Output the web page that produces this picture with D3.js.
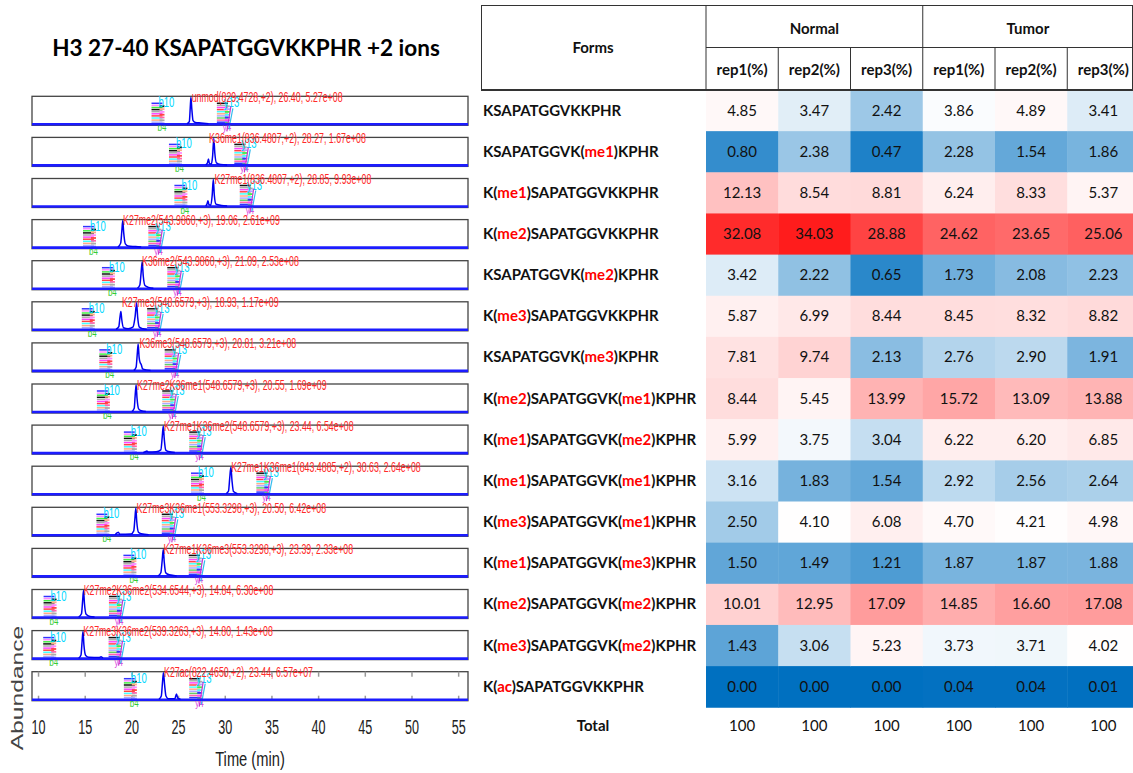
<!DOCTYPE html>
<html>
<head>
<meta charset="utf-8">
<script src="https://cdn.jsdelivr.net/npm/d3@7"></script>
<style>
  body { margin: 0; background: #fff; }
  svg { display: block; }
</style>
</head>
<body>
<div id="chart"></div>
<script>
// ---------- table data ----------
const forms = [
  "KSAPATGGVKKPHR", "KSAPATGGVK(me1)KPHR", "K(me1)SAPATGGVKKPHR", "K(me2)SAPATGGVKKPHR",
  "KSAPATGGVK(me2)KPHR", "K(me3)SAPATGGVKKPHR", "KSAPATGGVK(me3)KPHR", "K(me2)SAPATGGVK(me1)KPHR",
  "K(me1)SAPATGGVK(me2)KPHR", "K(me1)SAPATGGVK(me1)KPHR", "K(me3)SAPATGGVK(me1)KPHR",
  "K(me1)SAPATGGVK(me3)KPHR", "K(me2)SAPATGGVK(me2)KPHR", "K(me3)SAPATGGVK(me2)KPHR", "K(ac)SAPATGGVKKPHR"
];
const normalRep1 = [4.85, 0.80, 12.13, 32.08, 3.42, 5.87, 7.81, 8.44, 5.99, 3.16, 2.50, 1.50, 10.01, 1.43, 0.00];
const normalRep2 = [3.47, 2.38, 8.54, 34.03, 2.22, 6.99, 9.74, 5.45, 3.75, 1.83, 4.10, 1.49, 12.95, 3.06, 0.00];
const normalRep3 = [2.42, 0.47, 8.81, 28.88, 0.65, 8.44, 2.13, 13.99, 3.04, 1.54, 6.08, 1.21, 17.09, 5.23, 0.00];
const tumorRep1  = [3.86, 2.28, 6.24, 24.62, 1.73, 8.45, 2.76, 15.72, 6.22, 2.92, 4.70, 1.87, 14.85, 3.73, 0.04];
const tumorRep2  = [4.89, 1.54, 8.33, 23.65, 2.08, 8.32, 2.90, 13.09, 6.20, 2.56, 4.21, 1.87, 16.60, 3.71, 0.04];
const tumorRep3  = [3.41, 1.86, 5.37, 25.06, 2.23, 8.82, 1.91, 13.88, 6.85, 2.64, 4.98, 1.88, 17.08, 4.02, 0.01];
const groups = ["Normal", "Tumor"];
const repLabels = ["rep1(%)", "rep2(%)", "rep3(%)", "rep1(%)", "rep2(%)", "rep3(%)"];
const totals = [100, 100, 100, 100, 100, 100];

// ---------- chromatogram data ----------
const peptides = ["unmod", "K36me1", "K27me1", "K27me2", "K36me2", "K27me3", "K36me3", "K27me2K36me1",
  "K27me1K36me2", "K27me1K36me1", "K27me3K36me1", "K27me1K36me3", "K27me2K36me2", "K27me3K36me2", "K27ac"];
const mzs = ["829.4728", "836.4807", "836.4807", "543.9860", "543.9860", "548.6579", "548.6579", "548.6579",
  "548.6579", "843.4885", "553.3298", "553.3298", "534.6544", "539.3263", "822.4650"];
const charges = ["+2", "+2", "+2", "+3", "+3", "+3", "+3", "+3", "+3", "+2", "+3", "+3", "+3", "+3", "+2"];
const rts = ["26.40", "28.27", "28.85", "19.06", "21.09", "18.93", "20.81", "20.55", "23.44", "30.63",
  "20.50", "23.39", "14.84", "14.80", "23.44"];
const areas = ["5.27e+08", "1.67e+08", "9.93e+08", "2.61e+09", "2.53e+08", "1.17e+09", "3.21e+08", "1.69e+09",
  "6.54e+08", "2.64e+08", "6.42e+08", "2.33e+08", "6.30e+08", "1.43e+08", "6.57e+07"];
// [time, relative abundance]
const traces = [
  [[25.9,0],[26.15,0.08],[26.25,0.6],[26.32,1],[26.42,0.55],[26.55,0.12],[26.8,0.05],[27.4,0.03],[28.2,0]],
  [[27.9,0],[28.1,0.08],[28.2,0.22],[28.3,0.06],[28.5,0.03],[28.65,0.35],[28.77,1],[28.88,0.45],[29.05,0.08],[29.5,0.02],[30.2,0]],
  [[27.9,0],[28.05,0.08],[28.15,0.2],[28.25,0.05],[28.45,0.03],[28.6,0.4],[28.72,1],[28.83,0.4],[29.0,0.07],[29.6,0.02],[30.2,0]],
  [[18.5,0],[18.8,0.15],[18.92,0.6],[19.02,1],[19.12,0.55],[19.3,0.12],[19.6,0.04],[20.4,0.02],[21.0,0]],
  [[20.6,0],[20.85,0.12],[20.98,0.55],[21.1,1],[21.22,0.45],[21.4,0.1],[21.8,0.03],[22.3,0]],
  [[18.3,0],[18.6,0.1],[18.72,0.45],[18.82,0.67],[18.92,0.35],[19.1,0.06],[19.6,0.02],[20.1,0.08],[20.35,0.5],[20.5,1],[20.62,0.45],[20.8,0.08],[21.2,0.02],[21.6,0]],
  [[20.2,0],[20.45,0.12],[20.57,0.6],[20.67,1],[20.77,0.5],[20.88,0.3],[21.0,0.22],[21.15,0.06],[21.5,0.02],[22,0]],
  [[20.0,0],[20.25,0.12],[20.35,0.6],[20.45,1],[20.55,0.5],[20.72,0.1],[21.0,0.03],[21.5,0]],
  [[21.2,0],[21.5,0.04],[21.6,0.06],[21.75,0.02],[22.6,0.03],[23.1,0.1],[23.25,0.6],[23.36,1],[23.47,0.5],[23.62,0.1],[23.9,0.04],[24.6,0]],
  [[30.1,0],[30.35,0.1],[30.48,0.6],[30.6,1],[30.72,0.5],[30.88,0.08],[31.3,0]],
  [[18.2,0],[18.45,0.08],[18.55,0.1],[18.7,0.02],[19.9,0.03],[20.2,0.15],[20.32,0.6],[20.42,1],[20.52,0.5],[20.7,0.1],[21.0,0.04],[21.8,0]],
  [[22.8,0],[23.1,0.12],[23.25,0.6],[23.36,1],[23.47,0.5],[23.62,0.12],[24.0,0.04],[24.8,0]],
  [[14.3,0],[14.6,0.12],[14.72,0.6],[14.82,1],[14.92,0.5],[15.1,0.1],[15.5,0.02],[16.0,0]],
  [[14.3,0],[14.55,0.12],[14.66,0.6],[14.76,1],[14.86,0.5],[15.05,0.1],[15.4,0.03],[16.5,0.02],[16.7,0.05],[16.9,0]],
  [[22.9,0],[23.15,0.12],[23.27,0.6],[23.38,1],[23.5,0.55],[23.65,0.12],[23.9,0.02],[24.6,0.02],[24.78,0.2],[24.9,0.05],[25.2,0]]
];
const timeTicks = [10, 15, 20, 25, 30, 35, 40, 45, 50, 55];
const ionColors = ["#3333ff", "#ff88ff", "#44ee44", "#111111", "#aaaaaa", "#ff44ff", "#ff4444", "#44ffff", "#ffaa88", "#aaaaff", "#66cc66", "#ff66aa"];

const W = 1133, H = 773;
const svg = d3.select("#chart").append("svg").attr("width", W).attr("height", H);

// ================= left: chromatograms =================
const narrow = "'Liberation Sans', Arial, sans-serif";
const x = d3.scaleLinear().domain([9.3, 56]).range([32, 468]);
const panelTop = d3.scaleLinear().domain([0, 1]).range([96.3, 137.4]);
const panelH = 29;

function squeezed(g, px, py, txt, size, sx, fill, anchor) {
  return g.append("text")
    .attr("transform", `translate(${px},${py}) scale(${sx},1)`)
    .attr("text-anchor", anchor || "start")
    .attr("font-family", narrow)
    .attr("font-size", size)
    .attr("fill", fill)
    .text(txt);
}

svg.append("text")
  .attr("x", 246).attr("y", 56)
  .attr("text-anchor", "middle")
  .attr("font-family", "Lato, 'Open Sans', sans-serif")
  .attr("font-weight", "bold")
  .attr("font-size", 22.5)
  .text("H3 27-40 KSAPATGGVKKPHR +2 ions");

const left = svg.append("g");
const line = d3.line().x(d => x(d[0])).curve(d3.curveMonotoneX);

peptides.forEach((p, i) => {
  const top = panelTop(i), bot = top + panelH;
  const y = d3.scaleLinear().domain([0, 1]).range([bot - 1.5, top + 1]);
  const g = left.append("g");
  g.append("rect").attr("x", x.range()[0]).attr("y", top)
    .attr("width", x.range()[1] - x.range()[0]).attr("height", panelH)
    .attr("fill", "#fff").attr("stroke", "#444").attr("stroke-width", 1.3);

  if (i === peptides.length - 1) {
    timeTicks.forEach(t => {
      g.append("line").attr("x1", x(t)).attr("x2", x(t)).attr("y1", top).attr("y2", top + 5)
        .attr("stroke", "#999").attr("stroke-width", 1.5);
      g.append("line").attr("x1", x(t)).attr("x2", x(t)).attr("y1", bot - 5).attr("y2", bot)
        .attr("stroke", "#999").attr("stroke-width", 1.5);
    });
  }

  // fragment ion markers on both sides of the labelled peak
  const lrt = +rts[i];
  [[lrt - 4.3, "b10", "b4"], [lrt + 2.7, "y13", "y4"]].forEach(([t0, topLab, botLab], side) => {
    const x0 = x(t0);
    d3.range(11).forEach(k => {
      g.append("line").attr("x1", x0).attr("x2", x0 + 11)
        .attr("y1", top + 7 + k * 2.1).attr("y2", top + 7 + k * 2.1)
        .attr("stroke", ionColors[(k + side * 3) % ionColors.length]).attr("stroke-width", 1.5);
    });
    // dense column of ion numbers drawn as short strokes
    d3.range(7).forEach(k => {
      g.append("line").attr("x1", x0 + 8).attr("x2", x0 + 13)
        .attr("y1", top + 10 + k * 2.8).attr("y2", top + 10 + k * 2.8)
        .attr("stroke", ionColors[(k * 5 + 3 + side) % ionColors.length]).attr("stroke-width", 1.8);
    });
    squeezed(g, x0 + 7, top + 11, topLab, 14, 0.68, "#00d8ff");
    squeezed(g, x0 + 6, bot + 6, botLab, 10, 0.8, side ? "#dd44dd" : "#33cc33");
    if (side) {
      g.append("line").attr("x1", x0 + 14).attr("x2", x0 + 10).attr("y1", top + 10).attr("y2", bot + 6)
        .attr("stroke", "#cc33cc").attr("stroke-width", 1.2);
      g.append("line").attr("x1", x0 + 16).attr("x2", x0 + 12).attr("y1", top + 12).attr("y2", bot + 4)
        .attr("stroke", "#33bbee").attr("stroke-width", 1.2);
    }
  });

  // baseline and trace
  g.append("line").attr("x1", x.range()[0]).attr("x2", x.range()[1])
    .attr("y1", bot - 1).attr("y2", bot - 1)
    .attr("stroke", "#1c1cff").attr("stroke-width", 2.6);
  g.append("path").datum(traces[i])
    .attr("d", line.y(d => y(d[1])))
    .attr("fill", "none").attr("stroke", "#0000ee").attr("stroke-width", 1.5);

  squeezed(g, x(lrt), top + 5.5, `${p}(${mzs[i]},${charges[i]}), ${rts[i]}, ${areas[i]}`, 14, 0.63, "#ff2a2a");
});

// time axis labels
const lastBot = panelTop(peptides.length - 1) + panelH;
timeTicks.forEach(t => {
  squeezed(left, x(t), lastBot + 33, t, 21, 0.6, "#222", "middle");
});
squeezed(left, 250, 766, "Time (min)", 21, 0.7, "#222", "middle");
left.append("text")
  .attr("transform", "translate(23,688) rotate(-90) scale(1.45,1)")
  .attr("text-anchor", "middle")
  .attr("font-family", narrow)
  .attr("font-size", 17)
  .attr("fill", "#444")
  .text("Abundance");

// ================= right: heatmap table =================
const font = "Lato, 'Open Sans', sans-serif";
const series = [normalRep1, normalRep2, normalRep3, tumorRep1, tumorRep2, tumorRep3];
const allVals = series.flat();
const color = d3.scaleLinear()
  .domain([d3.min(allVals), d3.median(allVals), d3.max(allVals)])
  .range(["#0070c0", "#ffffff", "#ff1c1c"]);

const colX = d3.scaleBand().domain(d3.range(6)).range([706, 1139.5]);
const rowY = d3.scaleBand().domain(forms).range([90, 90 + 41.15 * forms.length]);
const tbl = svg.append("g");

series.forEach((vals, c) => {
  vals.forEach((v, r) => {
    tbl.append("rect")
      .attr("x", colX(c)).attr("y", rowY(forms[r]))
      .attr("width", colX.bandwidth() + 0.5).attr("height", rowY.bandwidth() + 0.5)
      .attr("fill", color(v));
    tbl.append("text")
      .attr("x", colX(c) + colX.bandwidth() / 2)
      .attr("y", rowY(forms[r]) + rowY.bandwidth() / 2 + 5)
      .attr("text-anchor", "middle")
      .attr("font-family", font).attr("font-size", 15).attr("fill", "#111")
      .text(v.toFixed(2));
  });
});

// row labels: modifications in red
forms.forEach(f => {
  const t = tbl.append("text")
    .attr("x", 483).attr("y", rowY(f) + rowY.bandwidth() / 2 + 5)
    .attr("font-family", font).attr("font-size", 15).attr("font-weight", "bold");
  f.split(/(\([^)]*\))/).filter(s => s).forEach(s => {
    if (s[0] === "(") {
      t.append("tspan").attr("fill", "#111").text("(");
      t.append("tspan").attr("fill", "#ff0000").text(s.slice(1, -1));
      t.append("tspan").attr("fill", "#111").text(")");
    } else {
      t.append("tspan").attr("fill", "#111").text(s);
    }
  });
});

// totals
const totY = rowY.range()[1] + 24;
tbl.append("text").attr("x", 593).attr("y", totY)
  .attr("text-anchor", "middle").attr("font-family", font)
  .attr("font-size", 15).attr("font-weight", "bold").attr("fill", "#111").text("Total");
totals.forEach((v, c) => {
  tbl.append("text").attr("x", colX(c) + colX.bandwidth() / 2).attr("y", totY)
    .attr("text-anchor", "middle").attr("font-family", font)
    .attr("font-size", 15).attr("fill", "#111").text(v);
});

// header
const hdr = tbl.append("g").attr("font-family", font).attr("font-size", 15)
  .attr("font-weight", "bold").attr("fill", "#111").attr("text-anchor", "middle");
hdr.append("text").attr("x", 593).attr("y", 53).text("Forms");
groups.forEach((gname, gi) => {
  const x0 = colX(gi * 3), x1 = gi === 1 ? 1133 : colX(gi * 3 + 3);
  hdr.append("text").attr("x", (x0 + x1) / 2).attr("y", 34).text(gname);
});
repLabels.forEach((r, c) => {
  hdr.append("text").attr("x", colX(c) + colX.bandwidth() / 2).attr("y", 75).text(r);
});

const grid = tbl.append("g").attr("stroke", "#333").attr("stroke-width", 1);
grid.append("line").attr("x1", 481).attr("x2", 1133).attr("y1", 5.5).attr("y2", 5.5);
grid.append("line").attr("x1", colX(0)).attr("x2", 1133).attr("y1", 47.5).attr("y2", 47.5);
[481.5, colX(0), colX(3), 1132.5].forEach(v => {
  grid.append("line").attr("x1", v).attr("x2", v).attr("y1", 5).attr("y2", 90);
});
[1, 2, 4, 5].forEach(c => {
  grid.append("line").attr("x1", colX(c)).attr("x2", colX(c)).attr("y1", 47).attr("y2", 90);
});
grid.append("line").attr("x1", 481).attr("x2", 1133).attr("y1", 90).attr("y2", 90)
  .attr("stroke-width", 2);
</script>
</body>
</html>
